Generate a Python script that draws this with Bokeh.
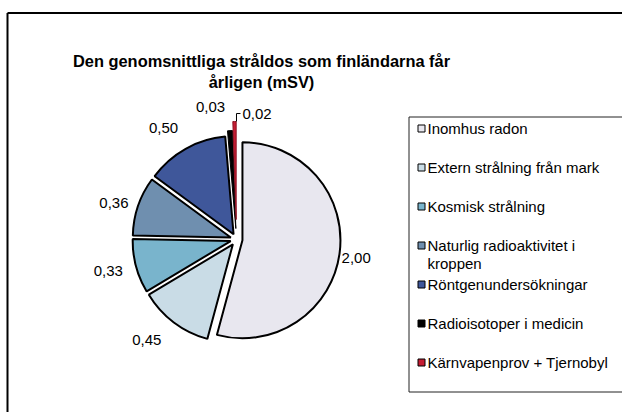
import math
import textwrap
from bokeh.plotting import figure
from bokeh.models import Range1d, ColumnDataSource
from bokeh.core.properties import value
from bokeh.embed import file_html
from bokeh.resources import INLINE

# ---------------- data ----------------
categories = [
    "Inomhus radon",
    "Extern strålning från mark",
    "Kosmisk strålning",
    "Naturlig radioaktivitet i kroppen",
    "Röntgenundersökningar",
    "Radioisotoper i medicin",
    "Kärnvapenprov + Tjernobyl",
]
values = [2.00, 0.45, 0.33, 0.36, 0.50, 0.03, 0.02]
colors = ["#E8E7EF", "#C9DCE6", "#79B4CC", "#6F8FAF", "#3F579A", "#000000", "#C41C33"]
title_lines = ["Den genomsnittliga stråldos som finländarna får", "årligen (mSV)"]

# ---------------- layout (screenshot pixel coordinates) ----------------
W, H = 622, 412
def Y(iy):
    return H - iy

FONT = value("Liberation Sans")
CX, CY = 236, 239          # pie centre
R = 98                     # pie radius
explode = [6, 6, 6, 6, 6, 11, 20]
label_r = [121, 135, 132, 128, 133, 135, None]
label_dt = [1, 4.6, 1, -2, -4, -7.7, 0]
EDGE_X, EDGE_Y = W, H      # frame / legend box run to the visible edges

p = figure(width=W, height=H, x_range=Range1d(0, W), y_range=Range1d(0, H),
           output_backend="svg", toolbar_location=None, min_border=0,
           x_axis_location=None, y_axis_location=None)
p.grid.visible = False
p.outline_line_color = None
p.background_fill_color = "white"
p.border_fill_color = "white"

# outer chart frame (only left and top edges are visible)
p.segment(x0=[7, 7], y0=[Y(EDGE_Y), Y(12.5)], x1=[7, EDGE_X], y1=[Y(12.5), Y(12.5)],
          line_color="black", line_width=2)

# title
p.text(x=[261, 261], y=[Y(60), Y(81)], text=title_lines,
       text_font=FONT, text_font_style="bold", text_font_size="16.4px",
       text_align="center", text_baseline="middle", text_color="black")

# pie slices
total = sum(values)
xs, ys, sa, ea = [], [], [], []
lab_x, lab_y, lab_t = [], [], []
cum = 0.0
red_anchor = None
for i, v in enumerate(values):
    t1 = cum / total * 360.0
    t2 = (cum + v) / total * 360.0
    cum += v
    bis = (t1 + t2) / 2
    d = explode[i]
    ox = CX + d * math.sin(math.radians(bis))
    oy = CY - d * math.cos(math.radians(bis))
    xs.append(ox)
    ys.append(Y(oy))
    sa.append(math.radians(90 - t1))
    ea.append(math.radians(90 - t2))
    txt = f"{v:.2f}".replace(".", ",")
    if label_r[i] is not None:
        th = math.radians(bis + label_dt[i])
        lab_x.append(CX + label_r[i] * math.sin(th))
        lab_y.append(Y(CY - label_r[i] * math.cos(th)))
        lab_t.append(txt)
    else:
        th = math.radians(bis)
        ax = CX + (R + d) * math.sin(th)
        ay = CY - (R + d) * math.cos(th)
        red_anchor = (ax, ay, txt)

src = ColumnDataSource(dict(x=xs, y=ys, s=sa, e=ea, c=colors,
                            lc=["black"] * 6 + ["#8E1222"],
                            lw=[2, 2, 2, 2, 2, 1, 1]))
p.wedge(x="x", y="y", radius=R, start_angle="s", end_angle="e", direction="clock",
        fill_color="c", line_color="lc", line_width="lw", source=src)

# value labels
p.text(x=lab_x, y=lab_y, text=lab_t, text_font=FONT, text_font_size="15px",
       text_align="center", text_baseline="middle", text_color="black")

# leader line for the smallest slice
ax, ay, txt = red_anchor
lx = ax + 2
p.line(x=[lx, lx, lx + 4], y=[Y(ay), Y(ay - 8), Y(ay - 8)], line_color="black", line_width=1)
p.text(x=[lx + 6], y=[Y(ay - 8)], text=[txt], text_font=FONT, text_font_size="15px",
       text_align="left", text_baseline="middle", text_color="black")

# legend box (left, top and bottom edges visible)
LX0, LTOP, LBOT = 408.5, 116.5, 391.5
p.segment(x0=[LX0, LX0, LX0], y0=[Y(LTOP), Y(LTOP), Y(LBOT)],
          x1=[EDGE_X, LX0, EDGE_X], y1=[Y(LTOP), Y(LBOT), Y(LBOT)],
          line_color="#222222", line_width=1)
sq_x, sq_y, t_x, t_y, t_t = [], [], [], [], []
for i, cat in enumerate(categories):
    y0 = 128 + 39 * i
    sq_x.append(421)
    sq_y.append(Y(y0))
    for k, line in enumerate(textwrap.wrap(cat, width=26)):
        t_x.append(427)
        t_y.append(Y(y0 + 18 * k))
        t_t.append(line)
p.rect(x=sq_x, y=sq_y, width=7, height=7, fill_color=colors, line_color="black", line_width=1)
p.text(x=t_x, y=t_y, text=t_t, text_font=FONT, text_font_size="15px",
       text_align="left", text_baseline="middle", text_color="black")

open("out.html", "w").write(file_html(p, INLINE))
